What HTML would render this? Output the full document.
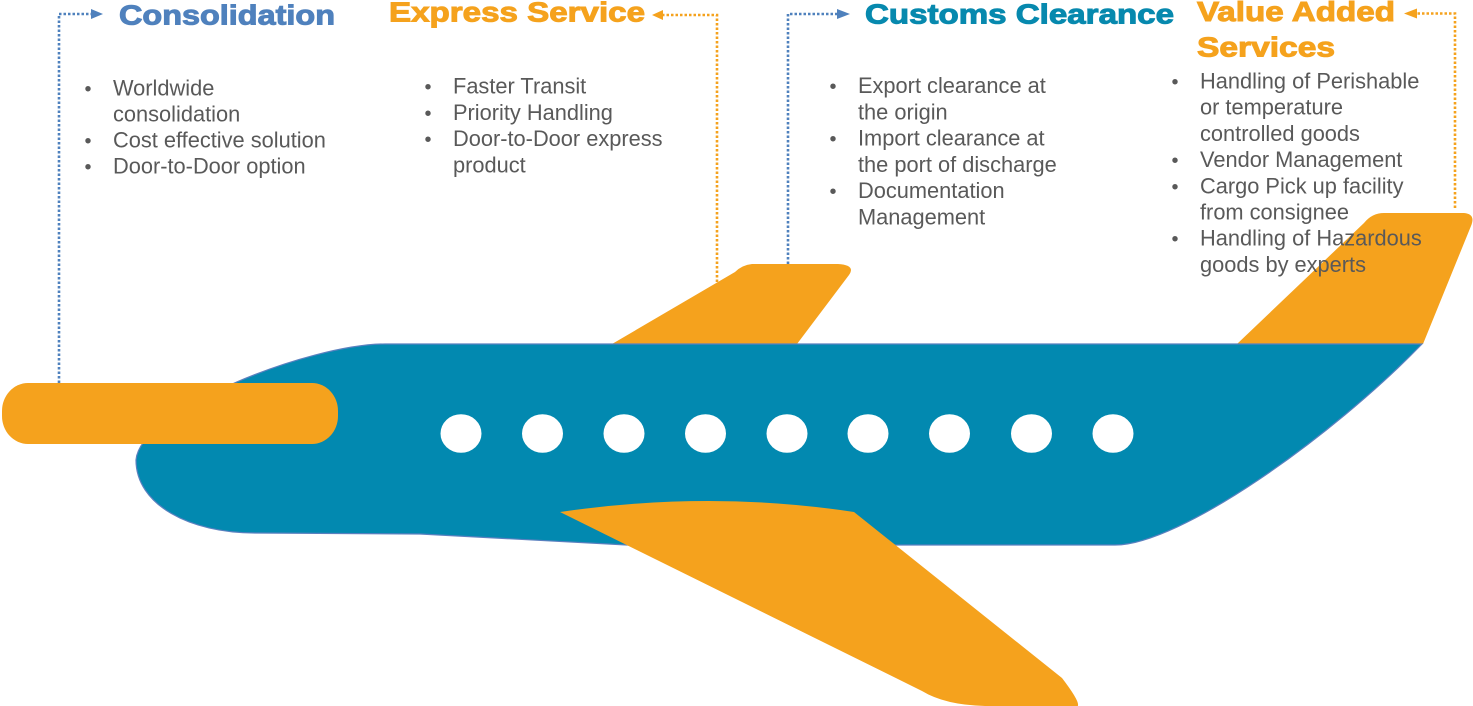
<!DOCTYPE html>
<html>
<head>
<meta charset="utf-8">
<style>
  html, body { margin:0; padding:0; background:#ffffff; }
  body { width:1473px; height:706px; overflow:hidden; }
  svg { display:block; }
  .t { font-family:"Liberation Sans", Arial, sans-serif; font-weight:bold; font-size:28px; stroke-width:1px; }
  .b { font-family:"Liberation Sans", Arial, sans-serif; font-size:21.8px; fill:#595959; }
  .d { font-family:"Liberation Sans", Arial, sans-serif; font-size:20px; fill:#595959; text-anchor:middle; }
</style>
</head>
<body>
<svg width="1473" height="706" viewBox="0 0 1473 706" xmlns="http://www.w3.org/2000/svg">
  <!-- fins (behind body) -->
  <path d="M612,344 L735,272 Q742,265 752,264 L838,264 Q856,265 849,275 L797,344 Z" fill="#F5A21D"/>
  <path d="M1237,344 L1364,223 Q1372,213 1384,213 L1464,213 Q1476,214 1471,226 L1423,344 Z" fill="#F5A21D"/>

  <!-- fuselage -->
  <path d="M385,344 L1422,344 C1332,437 1180,545 1115,545 L627,545 L420,534 L255,533 C190,533 136,505 136,460 C140,410 310,344 385,344 Z"
        fill="#0289B0" stroke="#5a80bf" stroke-width="1.2"/>

  <!-- windows -->
  <g fill="#ffffff">
    <ellipse cx="461" cy="433.5" rx="20.5" ry="19.3"/>
    <ellipse cx="542.5" cy="433.5" rx="20.5" ry="19.3"/>
    <ellipse cx="624" cy="433.5" rx="20.5" ry="19.3"/>
    <ellipse cx="705.5" cy="433.5" rx="20.5" ry="19.3"/>
    <ellipse cx="787" cy="433.5" rx="20.5" ry="19.3"/>
    <ellipse cx="868" cy="433.5" rx="20.5" ry="19.3"/>
    <ellipse cx="949.5" cy="433.5" rx="20.5" ry="19.3"/>
    <ellipse cx="1031.5" cy="433.5" rx="20.5" ry="19.3"/>
    <ellipse cx="1113" cy="433.5" rx="20.5" ry="19.3"/>
  </g>

  <!-- engine -->
  <rect x="2" y="383" width="336" height="61" rx="26" ry="28" fill="#F5A21D"/>

  <!-- lower wing -->
  <path d="M560,512 Q710,490 854,512 L1062,678 Q1088,712 1072,706 L985,706 Q945,705 922,691 Z" fill="#F5A21D"/>

  <!-- connectors -->
  <g fill="none" stroke-width="2.6" stroke-dasharray="2.5 2">
    <path d="M59,383 L59,14 L91,14" stroke="#4F81BD"/>
    <path d="M717,282 L717,15 L663,15" stroke="#F5A21D"/>
    <path d="M788,264 L788,14 L837,14" stroke="#4F81BD"/>
    <path d="M1455,208 L1455,13.5 L1417,13.5" stroke="#F5A21D"/>
  </g>
  <polygon points="91,9 91,19 103,14" fill="#4F81BD"/>
  <polygon points="663,10 663,20 652,15" fill="#F5A21D"/>
  <polygon points="837,9 837,19 850,14" fill="#4F81BD"/>
  <polygon points="1417,8.5 1417,18.5 1404,13.5" fill="#F5A21D"/>

  <!-- titles -->
  <text class="t" x="119" y="24.5" textLength="216" lengthAdjust="spacingAndGlyphs" fill="#4F81BD" stroke="#4F81BD">Consolidation</text>
  <text class="t" x="389" y="21.3" textLength="256" lengthAdjust="spacingAndGlyphs" fill="#F5A21D" stroke="#F5A21D">Express Service</text>
  <text class="t" x="865" y="23.3" textLength="309" lengthAdjust="spacingAndGlyphs" fill="#0789AE" stroke="#0789AE">Customs Clearance</text>
  <text class="t" x="1197" y="21" textLength="198" lengthAdjust="spacingAndGlyphs" fill="#F5A21D" stroke="#F5A21D">Value Added</text>
  <text class="t" x="1197" y="56.5" textLength="138" lengthAdjust="spacingAndGlyphs" fill="#F5A21D" stroke="#F5A21D">Services</text>

  <!-- Consolidation list -->
  <text class="d" x="88" y="95.5">•</text>
  <text class="b" x="113" y="95.5">Worldwide</text>
  <text class="b" x="113" y="121.5">consolidation</text>
  <text class="d" x="88" y="147.5">•</text>
  <text class="b" x="113" y="147.5">Cost effective solution</text>
  <text class="d" x="88" y="173.5">•</text>
  <text class="b" x="113" y="173.5">Door-to-Door option</text>

  <!-- Express list -->
  <text class="d" x="428" y="93.5">•</text>
  <text class="b" x="453" y="93.5">Faster Transit</text>
  <text class="d" x="428" y="119.8">•</text>
  <text class="b" x="453" y="119.8">Priority Handling</text>
  <text class="d" x="428" y="146.1">•</text>
  <text class="b" x="453" y="146.1">Door-to-Door express</text>
  <text class="b" x="453" y="172.4">product</text>

  <!-- Customs list -->
  <text class="d" x="833" y="93">•</text>
  <text class="b" x="858" y="93">Export clearance at</text>
  <text class="b" x="858" y="119.3">the origin</text>
  <text class="d" x="833" y="145.6">•</text>
  <text class="b" x="858" y="145.6">Import clearance at</text>
  <text class="b" x="858" y="171.8">the port of discharge</text>
  <text class="d" x="833" y="198">•</text>
  <text class="b" x="858" y="198">Documentation</text>
  <text class="b" x="858" y="224.3">Management</text>

  <!-- Value Added list -->
  <text class="d" x="1175" y="88.5">•</text>
  <text class="b" x="1200" y="88.5">Handling of Perishable</text>
  <text class="b" x="1200" y="114.7">or temperature</text>
  <text class="b" x="1200" y="140.9">controlled goods</text>
  <text class="d" x="1175" y="167.1">•</text>
  <text class="b" x="1200" y="167.1">Vendor Management</text>
  <text class="d" x="1175" y="193.3">•</text>
  <text class="b" x="1200" y="193.3">Cargo Pick up facility</text>
  <text class="b" x="1200" y="219.5">from consignee</text>
  <text class="d" x="1175" y="245.7">•</text>
  <text class="b" x="1200" y="245.7">Handling of Hazardous</text>
  <text class="b" x="1200" y="271.9">goods by experts</text>
</svg>
</body>
</html>
